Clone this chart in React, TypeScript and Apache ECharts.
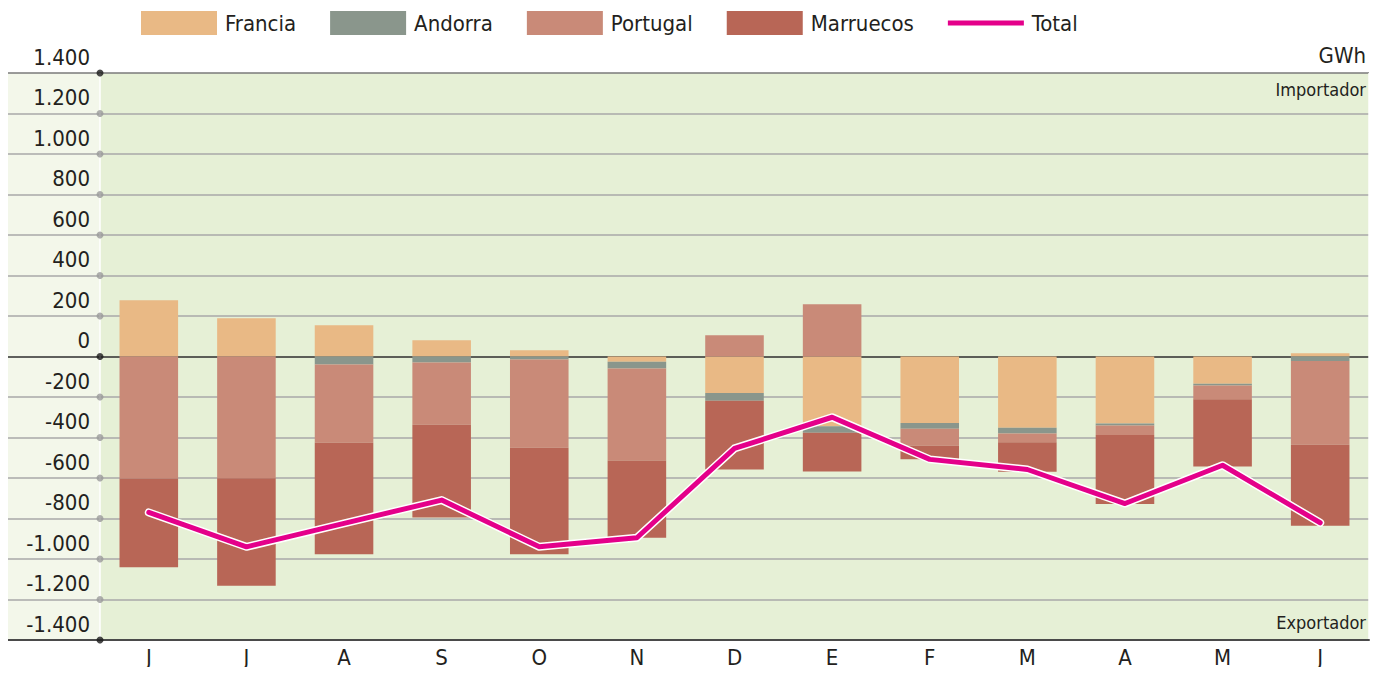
import React, { useEffect, useRef } from "react";
import * as echarts from "echarts";

const categories = ["J", "J", "A", "S", "O", "N", "D", "E", "F", "M", "A", "M", "J"];
const francia = [278, 189, 154, 80, 31, -26, -180, -344, -328, -352, -331, -135, 16];
const andorra = [0, 0, -40, -30, -15, -33, -39, -33, -29, -28, -10, -8, -22];
const portugal = [-602, -601, -386, -307, -436, -454, 105, 258, -84, -43, -47, -68, -414];
const marruecos = [-439, -531, -550, -458, -525, -382, -339, -191, -66, -146, -341, -332, -400];
const total = [-770, -940, -824, -709, -940, -895, -454, -300, -508, -558, -726, -537, -821];
const yTicks = [-1400, -1200, -1000, -800, -600, -400, -200, 0, 200, 400, 600, 800, 1000, 1200, 1400];

const FONT = '"Liberation Sans Narrow", "DejaVu Sans Condensed", "Open Sans", sans-serif';
const TXT = "#231f20";

function fmt(v: number): string {
  const s = Math.abs(v).toString().replace(/\B(?=(\d{3})+(?!\d))/g, ".");
  return (v < 0 ? "-" : "") + s;
}

const lineColors = yTicks.map((v) =>
  v === 0 ? "#2e2e2e" : v === 1400 ? "#7a7a7a" : v === -1400 ? "#4a4a4a" : "#a8a8a8"
);

export default function App() {
  const ref = useRef<HTMLDivElement>(null);
  useEffect(() => {
    if (!ref.current) return;
    const chart = echarts.init(ref.current, null, { renderer: "svg" });
    const option: any = {
      animation: false,
      legend: {
        left: 136,
        top: 6,
        itemWidth: 76,
        itemHeight: 24,
        itemGap: 34,
        textStyle: { fontFamily: FONT, fontSize: 22, color: TXT, padding: [0, 0, 0, 3] },
        selectedMode: false,
        data: [
          { name: "Francia", icon: "rect" },
          { name: "Andorra", icon: "rect" },
          { name: "Portugal", icon: "rect" },
          { name: "Marruecos", icon: "rect" },
          { name: "Total", icon: "path://M0,0 L76,0 L76,5 L0,5 Z" },
        ],
      },
      grid: [
        { left: 100, right: 13, top: 73, bottom: 35, show: true, backgroundColor: "#e6f0d6", borderWidth: 0 },
        { left: 8, width: 92, top: 73, bottom: 35, show: true, backgroundColor: "#f3f7ea", borderWidth: 0 },
      ],
      xAxis: [
        {
          type: "category",
          gridIndex: 0,
          data: categories,
          axisLine: { show: true, onZero: false, lineStyle: { color: "#4a4a4a", width: 2 } },
          axisTick: { show: false },
          axisLabel: { fontFamily: FONT, fontSize: 22, color: TXT, margin: 6, interval: 0, lineHeight: 22 },
          splitLine: {
            show: true,
            interval: (index: number) => index === 7,
            lineStyle: { color: "#ffffff", width: 1.5 },
          },
          z: 5,
        },
        {
          type: "value",
          gridIndex: 1,
          min: 0,
          max: 1,
          axisLine: { show: true, onZero: false, lineStyle: { color: "#4a4a4a", width: 2 } },
          axisTick: { show: false },
          axisLabel: { show: false },
          splitLine: { show: false },
        },
      ],
      yAxis: [
        {
          type: "value",
          gridIndex: 0,
          min: -1400,
          max: 1400,
          interval: 200,
          axisLine: { show: false },
          axisTick: { show: false },
          axisLabel: {
            formatter: (v: number) => fmt(v),
            fontFamily: FONT,
            fontSize: 22,
            color: TXT,
            margin: 10,
            verticalAlign: "bottom",
            padding: [0, 0, 5, 0],
          },
          splitLine: { show: true, lineStyle: { color: lineColors, width: 1.5 } },
        },
        {
          type: "value",
          gridIndex: 1,
          min: -1400,
          max: 1400,
          interval: 200,
          axisLine: { show: false },
          axisTick: { show: false },
          axisLabel: { show: false },
          splitLine: { show: true, lineStyle: { color: lineColors, width: 1.5 } },
        },
      ],
      series: [
        { name: "Francia", type: "bar", stack: "s", barWidth: "60%", data: francia, itemStyle: { color: "#e9b985" } },
        { name: "Andorra", type: "bar", stack: "s", data: andorra, itemStyle: { color: "#8a968c" } },
        { name: "Portugal", type: "bar", stack: "s", data: portugal, itemStyle: { color: "#c98a78" } },
        { name: "Marruecos", type: "bar", stack: "s", data: marruecos, itemStyle: { color: "#b86656" } },
        {
          name: "TotalOutline",
          type: "line",
          data: total,
          symbol: "none",
          lineStyle: { color: "#ffffff", width: 8, cap: "round", join: "round" },
          z: 6,
          silent: true,
        },
        {
          name: "Total",
          type: "line",
          data: total,
          symbol: "none",
          itemStyle: { color: "#e4008a" },
          lineStyle: { color: "#e4008a", width: 5, cap: "round", join: "round" },
          z: 7,
        },
        {
          name: "dots",
          type: "scatter",
          xAxisIndex: 1,
          yAxisIndex: 1,
          clip: false,
          symbolSize: 7,
          z: 8,
          silent: true,
          data: yTicks.map((v) => ({
            value: [1, v],
            itemStyle: { color: v === 0 || v === 1400 || v === -1400 ? "#1a1a1a" : "#9a9a9a" },
          })),
        },
      ],
      graphic: [
        { type: "text", right: 16, top: 44, style: { text: "GWh", font: `22px ${FONT}`, fill: TXT } },
        { type: "text", right: 16, top: 80, style: { text: "Importador", font: `18px ${FONT}`, fill: TXT } },
        { type: "text", right: 16, top: 613, style: { text: "Exportador", font: `18px ${FONT}`, fill: TXT } },
      ],
    };
    chart.setOption(option);
    return () => chart.dispose();
  }, []);
  return <div ref={ref} style={{ width: 1382, height: 675, margin: -8 }} />;
}
